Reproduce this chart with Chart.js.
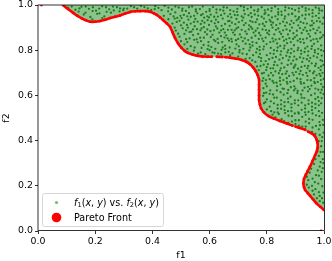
<!DOCTYPE html>
<html>
<head>
<meta charset="utf-8">
<script src="https://cdn.jsdelivr.net/npm/chart.js@4"></script>
<style>
  html, body { margin: 0; padding: 0; background: #fff; }
  canvas { display: block; }
</style>
</head>
<body>
<canvas id="chart" width="332" height="261"></canvas>
<script>
const fontName = '"DejaVu Sans"';
const tickLabels = ['0.0', '0.2', '0.4', '0.6', '0.8', '1.0'];

// pareto front, null = visible gap between the dots
const frontF1 = [.012, null, .088, .105, .123, .138, .153, .168, .182, .2, .217, .235, .252, .27, .287, .305, .322, .34, .357, .375, .392, .405, .415, .427, .437, .45, .462, .47, .479, .49, .502, .513, .524, .54, .555, .575, .594, .608, null, .625, .645, null, .655, .671, .69, .712, .728, .741, .752, .761, .768, .773, .773, .773, .773, .773, .776, .78, .79, .805, .825, .846, .87, .89, null, .9, .916, .934, null, .944, .957, .968, .974, .977, .978, .975, .969, .96, .951, .943, .936, .93, .928, .93, .934, .943, .951, .962, .974, .987, 1, null, .99];
const frontF2 = [1, null, .999, .982, .965, .952, .941, .932, .926, .926, .929, .935, .942, .948, .954, .962, .969, .972, .973, .973, .97, .963, .956, .945, .934, .919, .903, .88, .854, .83, .81, .797, .788, .781, .776, .772, .771, .771, null, .771, .77, null, .769, .767, .763, .757, .749, .738, .724, .708, .69, .668, .646, .624, .6, .58, .56, .543, .525, .509, .497, .487, .476, .466, null, .462, .456, .448, null, .44, .432, .42, .405, .39, .37, .352, .336, .31, .285, .265, .248, .23, .21, .195, .181, .168, .156, .14, .122, .107, .093, null, 0];

// the cloud has thousands of specks, these are a hand placed sample of it
const cloudPoints = [
[.105,.988],[.131,.979],[.152,.992],[.178,.983],[.203,.975],[.224,.994],[.249,.981],[.276,.99],[.298,.977],[.325,.995],[.347,.984],[.372,.991],[.396,.978],[.421,.987],[.443,.996],[.468,.98],[.492,.989],[.517,.974],[.539,.993],[.566,.982],[.588,.97],[.612,.991],[.637,.979],[.661,.988],[.684,.972],[.709,.995],[.733,.983],[.756,.976],[.782,.99],[.804,.98],[.829,.993],[.851,.971],[.877,.986],[.899,.977],[.924,.992],[.947,.981],[.971,.989],[.993,.975],
[.16,.958],[.183,.947],[.207,.961],[.232,.95],[.255,.966],[.285,.972],[.44,.952],[.463,.96],[.487,.943],[.51,.956],[.534,.948],[.557,.963],[.581,.944],[.604,.957],[.629,.949],[.652,.962],[.676,.945],[.698,.955],[.723,.96],[.747,.947],[.77,.953],[.795,.965],[.818,.945],[.84,.958],[.864,.95],[.889,.962],[.913,.946],[.936,.957],[.96,.949],[.982,.963],[.998,.944],
[.47,.918],[.495,.93],[.521,.912],[.545,.925],[.569,.916],[.593,.933],[.618,.919],[.642,.908],[.665,.928],[.69,.915],[.714,.931],[.738,.91],[.761,.924],[.786,.917],[.81,.934],[.833,.911],[.857,.926],[.881,.914],[.904,.932],[.928,.92],[.952,.909],[.975,.929],[.995,.917],
[.482,.887],[.506,.897],[.53,.88],[.556,.893],[.58,.902],[.603,.884],[.627,.896],[.653,.878],[.677,.89],[.7,.901],[.725,.883],[.749,.895],[.773,.876],[.797,.889],[.82,.9],[.845,.881],[.869,.892],[.893,.875],[.916,.898],[.94,.885],[.963,.894],[.987,.879],
[.495,.86],[.518,.849],[.542,.867],[.567,.855],[.591,.87],[.615,.846],[.64,.862],[.663,.852],[.688,.868],[.711,.857],[.735,.845],[.76,.864],[.784,.851],[.808,.869],[.831,.847],[.856,.859],[.879,.853],[.905,.866],[.927,.848],[.951,.861],[.974,.85],[.997,.867],
[.512,.826],[.534,.818],[.558,.835],[.579,.823],[.606,.814],[.63,.832],[.654,.82],[.678,.838],[.702,.817],[.726,.829],[.75,.836],[.775,.815],[.799,.827],[.823,.839],[.847,.819],[.871,.831],[.895,.822],[.918,.836],[.942,.816],[.965,.828],[.99,.821],
[.545,.798],[.569,.79],[.593,.805],[.617,.788],[.642,.801],[.667,.793],[.69,.807],[.715,.785],[.739,.799],[.763,.79],[.788,.804],[.812,.786],[.836,.797],[.86,.808],[.884,.787],[.908,.8],[.932,.792],[.956,.806],[.979,.784],[.999,.796],
[.64,.782],[.672,.778],[.7,.772],[.726,.762],[.749,.755],[.772,.77],[.796,.752],[.82,.766],[.844,.758],[.868,.775],[.892,.754],[.916,.768],[.94,.76],[.964,.774],[.988,.756],
[.766,.728],[.789,.736],[.813,.72],[.837,.733],[.861,.724],[.885,.74],[.909,.718],[.933,.731],[.957,.742],[.981,.722],[.998,.735],
[.783,.697],[.806,.688],[.83,.706],[.854,.694],[.878,.686],[.902,.703],[.926,.691],[.95,.708],[.974,.689],[.995,.7],
[.785,.664],[.81,.672],[.834,.656],[.858,.668],[.882,.66],[.906,.675],[.93,.654],[.954,.667],[.978,.659],[.999,.673],
[.788,.632],[.812,.622],[.836,.641],[.86,.629],[.884,.636],[.908,.62],[.932,.634],[.956,.643],[.98,.625],[.996,.638],
[.787,.598],[.81,.607],[.835,.59],[.859,.603],[.883,.594],[.907,.61],[.931,.588],[.955,.601],[.979,.592],[.998,.606],
[.79,.565],[.814,.574],[.838,.558],[.862,.57],[.886,.561],[.91,.578],[.934,.556],[.958,.568],[.982,.575],
[.8,.538],[.826,.525],[.85,.541],[.874,.53],[.898,.52],[.922,.536],[.946,.527],[.97,.544],[.993,.523],
[.83,.503],[.852,.495],[.876,.51],[.9,.49],[.924,.505],[.948,.496],[.972,.512],[.996,.492],
[.875,.478],[.9,.474],[.924,.462],[.948,.477],[.972,.465],[.997,.47],
[.935,.447],[.958,.438],[.982,.45],[.999,.435],[.985,.425],[.992,.398],[.99,.375],[.997,.35],[.982,.332],[.996,.318],
[.965,.297],[.985,.285],[.998,.3],[.95,.258],[.972,.247],[.992,.262],[.945,.225],[.968,.216],[.99,.23],
[.947,.192],[.97,.185],[.994,.198],[.965,.162],[.985,.155],[.998,.17],[.985,.132],[.997,.125],
[.142,.971],[.166,.966],[.191,.973],[.215,.963],[.24,.97],[.265,.976],[.3,.984],[.36,.996],[.41,.995],[.455,.972],[.48,.967],[.504,.975],[.528,.964],[.552,.972],[.576,.96],[.6,.974],[.624,.966],[.648,.975],[.672,.96],[.696,.97],[.72,.976],[.744,.964],[.768,.972],[.792,.96],[.816,.973],[.84,.968],[.864,.976],[.888,.961],[.912,.971],[.936,.975],[.96,.964],[.984,.976],
[.19,.936],[.225,.942],[.456,.937],[.478,.94],[.502,.942],[.526,.935],[.55,.938],[.574,.93],[.598,.945],[.622,.935],[.646,.94],[.67,.93],[.694,.938],[.718,.944],[.742,.93],[.766,.936],[.79,.94],[.814,.926],[.838,.937],[.862,.94],[.886,.93],[.91,.938],[.934,.94],[.958,.93],[.982,.942],
[.478,.9],[.5,.91],[.524,.9],[.548,.906],[.572,.897],[.598,.912],[.622,.905],[.648,.893],[.67,.908],[.694,.896],[.72,.911],[.744,.903],[.768,.897],[.792,.907],[.816,.912],[.84,.896],[.864,.908],[.888,.9],[.91,.91],[.934,.9],[.958,.91],[.982,.9],
[.49,.873],[.512,.872],[.536,.882],[.56,.872],[.584,.88],[.61,.868],[.634,.878],[.658,.866],[.682,.878],[.706,.87],[.73,.872],[.754,.878],[.778,.866],[.802,.876],[.826,.87],[.85,.872],[.874,.87],[.898,.858],[.922,.876],[.946,.872],[.97,.875],[.992,.858],
[.5,.84],[.522,.836],[.546,.846],[.57,.84],[.596,.836],[.62,.84],[.644,.836],[.668,.842],[.692,.844],[.716,.84],[.74,.826],[.764,.832],[.788,.84],[.812,.836],[.836,.83],[.86,.842],[.884,.836],[.908,.842],[.93,.832],[.954,.842],[.978,.838],
[.522,.806],[.548,.812],[.572,.81],[.596,.82],[.62,.806],[.646,.812],[.67,.812],[.694,.826],[.718,.806],[.742,.812],[.766,.806],[.79,.816],[.814,.81],[.838,.812],[.862,.82],[.886,.806],[.91,.81],[.934,.808],[.958,.818],[.98,.806],
[.56,.785],[.585,.782],[.61,.79],[.63,.785],[.655,.79],[.68,.786],[.704,.79],[.73,.782],[.752,.778],[.776,.784],[.8,.778],[.824,.784],[.848,.78],[.872,.79],[.896,.772],[.92,.784],[.944,.776],[.968,.79],[.992,.776],
[.735,.745],[.76,.748],[.78,.752],[.804,.738],[.828,.748],[.852,.742],[.876,.756],[.9,.736],[.924,.748],[.948,.752],[.972,.74],[.994,.752],
[.772,.712],[.798,.712],[.822,.72],[.846,.71],[.87,.706],[.894,.722],[.918,.708],[.942,.72],[.966,.706],[.988,.712],
[.788,.676],[.796,.652],[.822,.688],[.846,.678],[.87,.676],[.894,.69],[.918,.672],[.942,.686],[.966,.676],[.988,.686],
[.8,.64],[.824,.656],[.848,.648],[.872,.652],[.896,.64],[.92,.652],[.944,.638],[.968,.654],[.99,.65],
[.798,.612],[.822,.604],[.848,.614],[.872,.61],[.895,.622],[.92,.604],[.944,.618],[.968,.608],[.988,.612],
[.8,.582],[.826,.59],[.85,.578],[.874,.586],[.898,.578],[.922,.59],[.946,.578],[.97,.584],[.992,.588],
[.81,.55],[.838,.542],[.862,.552],[.886,.546],[.91,.556],[.934,.542],[.958,.55],[.982,.556],
[.82,.515],[.842,.518],[.864,.522],[.888,.508],[.912,.52],[.936,.514],[.96,.52],[.984,.508],
[.86,.486],[.888,.484],[.912,.49],[.936,.484],[.96,.492],[.984,.482],[.912,.466],[.936,.462],[.96,.458],[.986,.468],
[.97,.43],[.994,.415],[.982,.398],[.988,.35],[.975,.36],[.97,.318],[.988,.305],[.955,.275],[.978,.268],[.996,.278],
[.94,.24],[.96,.232],[.982,.245],[.94,.205],[.958,.2],[.98,.21],[.96,.178],[.982,.172],[.975,.145],[.993,.145],
[.118,.993],[.145,.985],[.167,.993],[.192,.99],[.214,.984],[.238,.99],[.262,.993],[.287,.985],[.312,.984],[.336,.99],[.384,.985],[.408,.982],[.432,.977],[.456,.988],[.48,.993],[.505,.984],[.528,.99],[.552,.98],[.576,.993],[.6,.982],[.624,.98],[.649,.99],[.672,.977],[.697,.983],[.72,.99],[.745,.99],[.77,.98],[.793,.976],[.817,.986],[.84,.982],[.865,.99],[.888,.983],[.912,.985],[.936,.986],[.96,.977],[.982,.985],
[.474,.95],[.498,.952],[.522,.95],[.546,.952],[.57,.955],[.592,.95],[.616,.948],[.64,.955],[.664,.95],[.688,.956],[.712,.95],[.736,.955],[.758,.958],[.782,.948],[.806,.955],[.83,.95],[.852,.956],[.876,.958],[.9,.95],[.924,.954],[.948,.958],[.972,.952],
[.485,.925],[.51,.922],[.534,.918],[.558,.926],[.582,.922],[.606,.928],[.63,.924],[.654,.916],[.678,.922],[.702,.924],[.726,.92],[.75,.925],[.774,.914],[.798,.925],[.822,.922],[.846,.918],[.87,.922],[.894,.92],[.918,.925],[.94,.918],[.964,.92],[.986,.926],
[.518,.888],[.542,.892],[.568,.888],[.592,.892],[.615,.888],[.64,.888],[.664,.89],[.688,.888],[.712,.89],[.737,.892],[.761,.886],[.785,.892],[.808,.886],[.832,.89],[.857,.888],[.881,.886],[.905,.886],[.928,.89],[.952,.888],[.976,.888],
[.53,.852],[.555,.848],[.58,.855],[.604,.858],[.628,.85],[.652,.856],[.676,.85],[.7,.85],[.723,.852],[.747,.855],[.772,.85],[.796,.856],[.82,.852],[.844,.85],[.868,.848],[.892,.85],[.916,.85],[.94,.852],[.963,.848],[.986,.852],
[.6,.8],[.655,.805],[.705,.8],[.75,.82],[.775,.8],[.825,.8],[.85,.795],[.875,.8],[.895,.795],[.92,.798],[.945,.795],[.968,.8],[.99,.8],
[.74,.765],[.78,.765],[.808,.76],[.832,.77],[.856,.765],[.88,.77],[.904,.76],[.928,.764],[.952,.765],[.976,.768],
[.778,.73],[.8,.725],[.825,.735],[.849,.72],[.873,.735],[.897,.728],[.921,.726],[.945,.73],[.969,.73],[.99,.728],
[.79,.7],[.815,.7],[.842,.698],[.866,.696],[.89,.7],[.914,.695],[.938,.7],[.962,.698],[.984,.695],
[.797,.668],[.82,.664],[.846,.664],[.87,.66],[.894,.664],[.918,.66],[.942,.668],[.966,.66],[.989,.668],
[.79,.61],[.835,.622],[.855,.63],[.875,.624],[.9,.63],[.925,.622],[.95,.628],[.97,.63],[.992,.625],
[.795,.57],[.825,.565],[.85,.56],[.875,.57],[.898,.565],[.922,.568],[.946,.562],[.97,.562],[.99,.565],
[.815,.53],[.838,.525],[.862,.535],[.886,.53],[.91,.525],[.934,.525],[.958,.535],[.982,.53]
];

// closed outline of the green area, front plus the top right corner
const areaCornersF1 = [1, .088];
const areaCornersF2 = [1, 1];
const areaOutline = frontF1.map((x, i) => ({ x, y: frontF2[i] }))
  .slice(2, -2)
  .filter(p => p.x !== null)
  .concat(areaCornersF1.map((x, i) => ({ x, y: areaCornersF2[i] })));

const legendRows = [
  [['f', 'i'], ['1', 's'], ['(', 'n'], ['x', 'i'], [', ', 'n'], ['y', 'i'], [') vs. ', 'n'], ['f', 'i'], ['2', 's'], ['(', 'n'], ['x', 'i'], [', ', 'n'], ['y', 'i'], [')', 'n']],
  [['Pareto Front', 'n']]
];

const framePlugin = {
  id: 'frame',
  afterDatasetsDraw(chart) {
    const { ctx, chartArea: a } = chart;
    ctx.save();
    ctx.strokeStyle = '#000';
    ctx.lineWidth = 0.8;
    ctx.strokeRect(a.left, a.top, a.right - a.left + 0.5, a.bottom - a.top - 0.5);

    // legend box, sits inside the axes at the lower left
    ctx.beginPath();
    ctx.roundRect(42.5, 193.5, 121, 33, 2);
    ctx.fillStyle = 'rgba(255,255,255,0.8)';
    ctx.fill();
    ctx.strokeStyle = '#d6d6d6';
    ctx.lineWidth = 1;
    ctx.stroke();

    ctx.fillStyle = 'rgba(0,128,0,0.55)';
    ctx.beginPath();
    ctx.arc(56.5, 202.5, 1.6, 0, Math.PI * 2);
    ctx.fill();
    ctx.fillStyle = '#ff0000';
    ctx.beginPath();
    ctx.arc(56.5, 217.5, 4.8, 0, Math.PI * 2);
    ctx.fill();

    ctx.fillStyle = '#000';
    ctx.textBaseline = 'alphabetic';
    ctx.textAlign = 'left';
    legendRows.forEach((row, r) => {
      let x = 74;
      const y = r === 0 ? 205.5 : 220.5;
      row.forEach(([text, kind]) => {
        ctx.font = kind === 'i' ? 'italic 9.6px ' + fontName : kind === 's' ? '6.7px ' + fontName : '9.6px ' + fontName;
        ctx.fillText(text, x, kind === 's' ? y + 1.5 : y);
        x += ctx.measureText(text).width;
      });
    });
    ctx.restore();
  }
};

new Chart(document.getElementById('chart'), {
  type: 'scatter',
  data: {
    datasets: [
      {
        label: 'area',
        data: areaOutline,
        showLine: true,
        fill: 'shape',
        backgroundColor: 'rgb(140,195,140)',
        borderWidth: 0,
        pointRadius: 0,
        order: 3
      },
      {
        label: 'f1(x, y) vs. f2(x, y)',
        data: cloudPoints.map(p => ({ x: p[0], y: p[1] })),
        pointRadius: 1.15,
        pointBorderWidth: 0,
        pointBackgroundColor: 'rgb(25,125,25)',
        order: 2
      },
      {
        label: 'Pareto Front',
        data: frontF1.map((x, i) => ({ x, y: frontF2[i] })),
        showLine: true,
        spanGaps: false,
        tension: 0.2,
        borderColor: '#ff0000',
        borderWidth: 2.6,
        pointRadius: 1.4,
        pointBorderWidth: 0,
        pointBackgroundColor: '#ff0000',
        order: 1
      }
    ]
  },
  options: {
    responsive: false,
    animation: false,
    events: [],
    layout: { padding: { top: 5, right: 8, left: 1, bottom: 0 } },
    plugins: { legend: { display: false }, tooltip: { enabled: false } },
    scales: {
      x: {
        min: 0, max: 1,
        afterFit(scale) { scale.height = 30; scale.paddingRight = 0; scale.paddingLeft = 0; },
        border: { display: false },
        grid: { drawOnChartArea: false, tickLength: 3, tickColor: '#000', lineWidth: 0.8 },
        ticks: { stepSize: 0.2, maxRotation: 0, padding: 2, color: '#000', font: { family: fontName, size: 9.4 }, callback: (v, i) => tickLabels[i] },
        title: { display: true, text: 'f1', color: '#000', font: { family: fontName, size: 9.4 }, padding: { top: 2, bottom: 0 } }
      },
      y: {
        min: 0, max: 1,
        afterFit(scale) { scale.width = 37; scale.paddingTop = 0; scale.paddingBottom = 0; },
        border: { display: false },
        grid: { drawOnChartArea: false, tickLength: 3, tickColor: '#000', lineWidth: 0.8 },
        ticks: { stepSize: 0.2, padding: 2, color: '#000', font: { family: fontName, size: 9.4 }, callback: (v, i) => tickLabels[i] },
        title: { display: true, text: 'f2', color: '#000', font: { family: fontName, size: 9.4 }, padding: { top: 0, bottom: 0 } }
      }
    }
  },
  plugins: [framePlugin]
});
</script>
</body>
</html>
